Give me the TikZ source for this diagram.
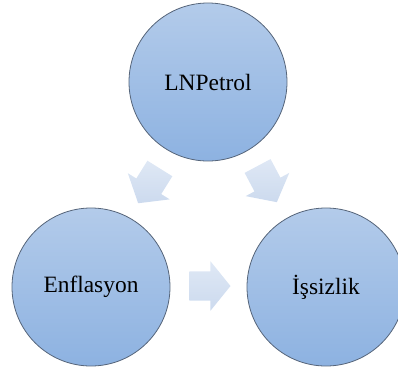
\documentclass[tikz,border=0pt]{standalone}
\usepackage{fontspec}
\setmainfont{Liberation Serif}
\usetikzlibrary{shapes.arrows}
\definecolor{ctop}{HTML}{B3CBEA}
\definecolor{cbot}{HTML}{8DB2E1}
\definecolor{cedge}{HTML}{56657A}
\definecolor{atop}{HTML}{DFE8F5}
\definecolor{abot}{HTML}{CCDAEE}
\begin{document}
\begin{tikzpicture}[x=1bp,y=-1bp,
  bubble/.style={circle, minimum size=158bp, inner sep=0pt, draw=cedge, line width=0.8bp,
    top color=ctop, bottom color=cbot, font=\fontsize{23.5}{27}\selectfont},
  blockarrow/.style={single arrow, anchor=tail, minimum height=41bp, inner xsep=0pt, inner ysep=14.5bp,
    single arrow head extend=10bp, single arrow tip angle=102, draw=none,
    top color=atop, bottom color=abot}]
\useasboundingbox (0,0) rectangle (398,369);
\begin{scope}
\clip (0,0) rectangle (398,369);
\node[bubble] (petrol) at (208,82) {LNPetrol};
\node[bubble] (enf) at (91,287) {Enflasyon};
\node[bubble] (iss) at (326,287) {İşsizlik};
\node[blockarrow, rotate=238] (a1) at (160,168.3) {};
\node[blockarrow, rotate=-62] (a2) at (257.5,165.8) {};
\node[blockarrow] (a3) at (189.3,286) {};
\end{scope}
\end{tikzpicture}
\end{document}
